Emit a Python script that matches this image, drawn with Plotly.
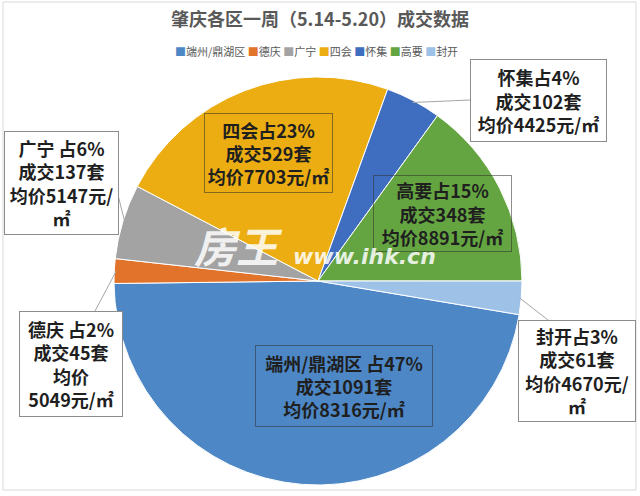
import math
import plotly.graph_objects as go

# ---- data ----
districts = ["端州/鼎湖区", "德庆", "广宁", "四会", "怀集", "高要", "封开"]
deals = [1091, 45, 137, 529, 102, 348, 61]
avg_price = [8316, 5049, 5147, 7703, 4425, 8891, 4670]
colors = ["#4D87C6", "#E2732A", "#A3A3A3", "#EBAD12", "#3F6EC0", "#64A541", "#9EC2E7"]

W, H = 640, 496
CX, CY, R = 318, 281, 204          # pie centre / radius in px
ROT = 99.5                          # start angle of first slice (clockwise from 12)

def px(x):
    return x / W

def py(y):
    return 1 - y / H

total = sum(deals)
pct = [round(v / total * 100) for v in deals]

# label templates (line breaks as in the reference)
tmpl = [
    "{n} 占{p}%<br>成交{c}套<br>均价{a}元/㎡",
    "{n} 占{p}%<br>成交{c}套<br>均价<br>{a}元/㎡",
    "{n} 占{p}%<br>成交{c}套<br>均价{a}元/<br>㎡",
    "{n}占{p}%<br>成交{c}套<br>均价{a}元/㎡",
    "{n}占{p}%<br>成交{c}套<br>均价{a}元/㎡",
    "{n}占{p}%<br>成交{c}套<br>均价{a}元/㎡",
    "{n}占{p}%<br>成交{c}套<br>均价{a}元/<br>㎡",
]
# box layout: centre x, centre y, width, height, outside?
boxes = [
    (344, 386, 178, 82, False),
    (71, 364, 104, 106, True),
    (61, 183, 115, 104, True),
    (268, 153, 129, 80, False),
    (538, 100, 137, 83, True),
    (442, 213, 139, 77, False),
    (577, 371, 118, 102, True),
]
# attach point of leader line on the box (px)
attach = [None, (95, 311), (118, 195), None, (470, 100), None, (548, 320)]

fig = go.Figure(go.Pie(
    labels=districts, values=deals, sort=False, direction="clockwise",
    rotation=ROT, textinfo="none", hoverinfo="label+value+percent",
    marker=dict(colors=colors, line=dict(color="white", width=1)),
    domain=dict(x=[px(CX - R), px(CX + R)], y=[py(CY + R), py(CY - R)]),
    showlegend=False,
))

font = "Noto Sans CJK SC"
ann = []
shapes = []
cum = 0
for i, name in enumerate(districts):
    mid = ROT + (cum + deals[i] / 2) / total * 360
    cum += deals[i]
    x, y, w, h, outside = boxes[i]
    text = "<b>" + tmpl[i].format(n=name, p=pct[i], c=deals[i], a=avg_price[i]) + "</b>"
    ann.append(dict(
        x=px(x), y=py(y), xref="paper", yref="paper", xanchor="center", yanchor="middle",
        text=text, showarrow=False, width=w - 2, height=h - 2, align="center", valign="middle",
        font=dict(family=font, size=18, color="#1F1F1F"),
        bgcolor="white" if outside else "rgba(0,0,0,0)",
        bordercolor="#8C8C8C" if outside else "rgba(50,50,50,0.55)",
        borderwidth=1, borderpad=0,
    ))
    if attach[i] is not None:
        ex = CX + (R - 2) * math.sin(math.radians(mid))
        ey = CY - (R - 2) * math.cos(math.radians(mid))
        ax, ay = attach[i]
        shapes.append(dict(type="line", xref="paper", yref="paper",
                           x0=px(ex), y0=py(ey), x1=px(ax), y1=py(ay),
                           line=dict(color="#A6A6A6", width=1)))

# legend built from categories/colours
leg = " ".join(f'<span style="color:{c}">■</span>{d}' for d, c in zip(districts, colors))
ann.append(dict(x=px(316), y=py(51), xref="paper", yref="paper", xanchor="center",
                yanchor="middle", text=leg, showarrow=False,
                font=dict(family=font, size=11, color="#595959")))

# watermark
ann.append(dict(x=px(238), y=py(245), xref="paper", yref="paper", xanchor="center",
                yanchor="middle", text="<b><i>房王</i></b>", showarrow=False,
                font=dict(family=font, size=42, color="rgba(255,255,255,0.85)")))
ann.append(dict(x=px(364), y=py(256), xref="paper", yref="paper", xanchor="center",
                yanchor="middle", text="<b><i>www.ihk.cn</i></b>", showarrow=False,
                font=dict(family="DejaVu Sans", size=22, color="rgba(255,255,255,0.85)")))

# outer frame
shapes.append(dict(type="rect", xref="paper", yref="paper", x0=px(3), y0=py(490),
                   x1=px(636), y1=py(2), line=dict(color="#D9D9D9", width=1)))

fig.update_layout(
    width=W, height=H, margin=dict(l=0, r=0, t=0, b=0),
    paper_bgcolor="white", plot_bgcolor="white",
    title=dict(text="<b>肇庆各区一周（5.14-5.20）成交数据</b>", x=0.5, xanchor="center",
               y=py(20), yanchor="middle",
               font=dict(family=font, size=18, color="#595959")),
    annotations=ann, shapes=shapes,
)

fig.write_html("out.html")
